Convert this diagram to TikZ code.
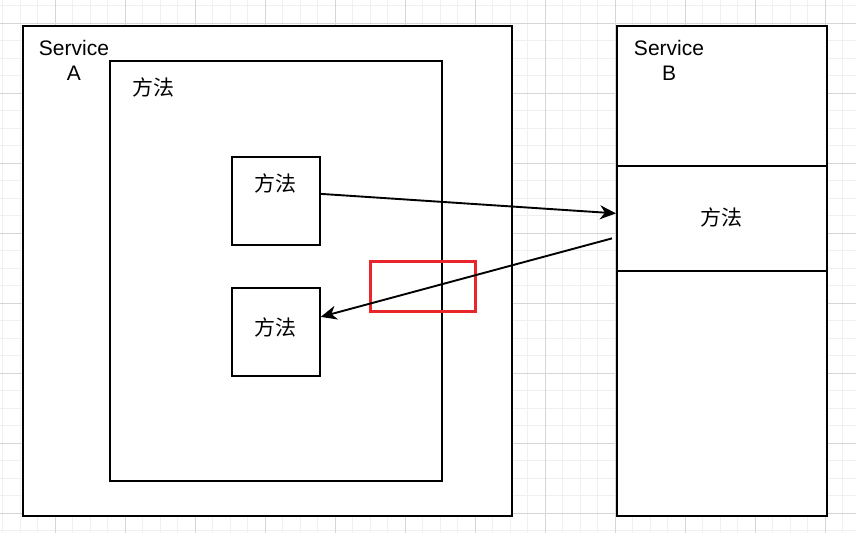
\documentclass[tikz,border=0pt]{standalone}
\usepackage{fontspec}
\setmainfont{Liberation Sans}
\newfontfamily\cjk{Noto Sans CJK SC}
\usetikzlibrary{arrows.meta}
\definecolor{gminor}{HTML}{F0F0F0}
\definecolor{gmajor}{HTML}{D6D6D6}
\definecolor{redbox}{HTML}{E8262B}
\tikzset{
  box/.style={draw=black, fill=white, line width=1.75pt, inner sep=0pt, anchor=north west},
  lbl/.style={inner sep=0pt, font=\fontsize{21}{25}\selectfont, align=center},
  conn/.style={line width=1.9pt, -{Stealth[length=16pt,width=14pt,inset=5pt]}},
  minorline/.style={draw=gminor, line width=1pt},
  majorline/.style={draw=gmajor, line width=1pt}
}
\begin{document}
\begin{tikzpicture}[x=1pt,y=-1pt]
\useasboundingbox (0,0) rectangle (856,533);
\fill[white] (0,0) rectangle (856,533);
% grid
\foreach \i in {0,...,49} \draw[minorline] ({2.5+17.5*\i},0) -- ({2.5+17.5*\i},533);
\foreach \i in {0,...,30} \draw[minorline] (0,{5.83+17.5*\i}) -- (856,{5.83+17.5*\i});
\foreach \i in {0,...,12} \draw[majorline] ({55+70*\i-70},0) -- ({55+70*\i-70},533);
\foreach \i in {0,...,7} \draw[majorline] (0,{23.33+70*\i}) -- (856,{23.33+70*\i});
% Service A
\node[box, minimum width=489pt, minimum height=490pt] (sa) at (22,25) {};
\node[lbl] (satext) at (74,60.5) {Service\\A};
\node[box, minimum width=332pt, minimum height=420pt] (inner) at (109,60) {};
\node[lbl, font=\fontsize{21}{25}\selectfont\cjk] (innertext) at (153,87) {方法};
\node[box, minimum width=88pt, minimum height=88pt] (m1) at (231,156) {};
\node[lbl, font=\fontsize{21}{25}\selectfont\cjk] (m1text) at (275,183) {方法};
\node[box, minimum width=88pt, minimum height=88pt] (m2) at (231,287) {};
\node[lbl, font=\fontsize{21}{25}\selectfont\cjk] (m2text) at (275,327) {方法};
% Service B
\node[box, minimum width=210pt, minimum height=490pt] (sb) at (616,25) {};
\node[lbl] (sbtext) at (669,60.5) {Service\\B};
\node[box, minimum width=210pt, minimum height=105pt] (mb) at (616,165) {};
\node[lbl, font=\fontsize{21}{25}\selectfont\cjk] (mbtext) at (721,217) {方法};
% red highlight
\node[draw=redbox, line width=3pt, inner sep=0pt, anchor=north west, minimum width=105pt, minimum height=50pt] (red) at (369,260) {};
% connectors
\draw[conn] ([yshift=7pt]m1.east) -- ([yshift=5pt]mb.west);
\draw[conn] ([xshift=-4pt,yshift=-20pt]mb.west) -- ([yshift=15pt]m2.east);
\end{tikzpicture}
\end{document}
